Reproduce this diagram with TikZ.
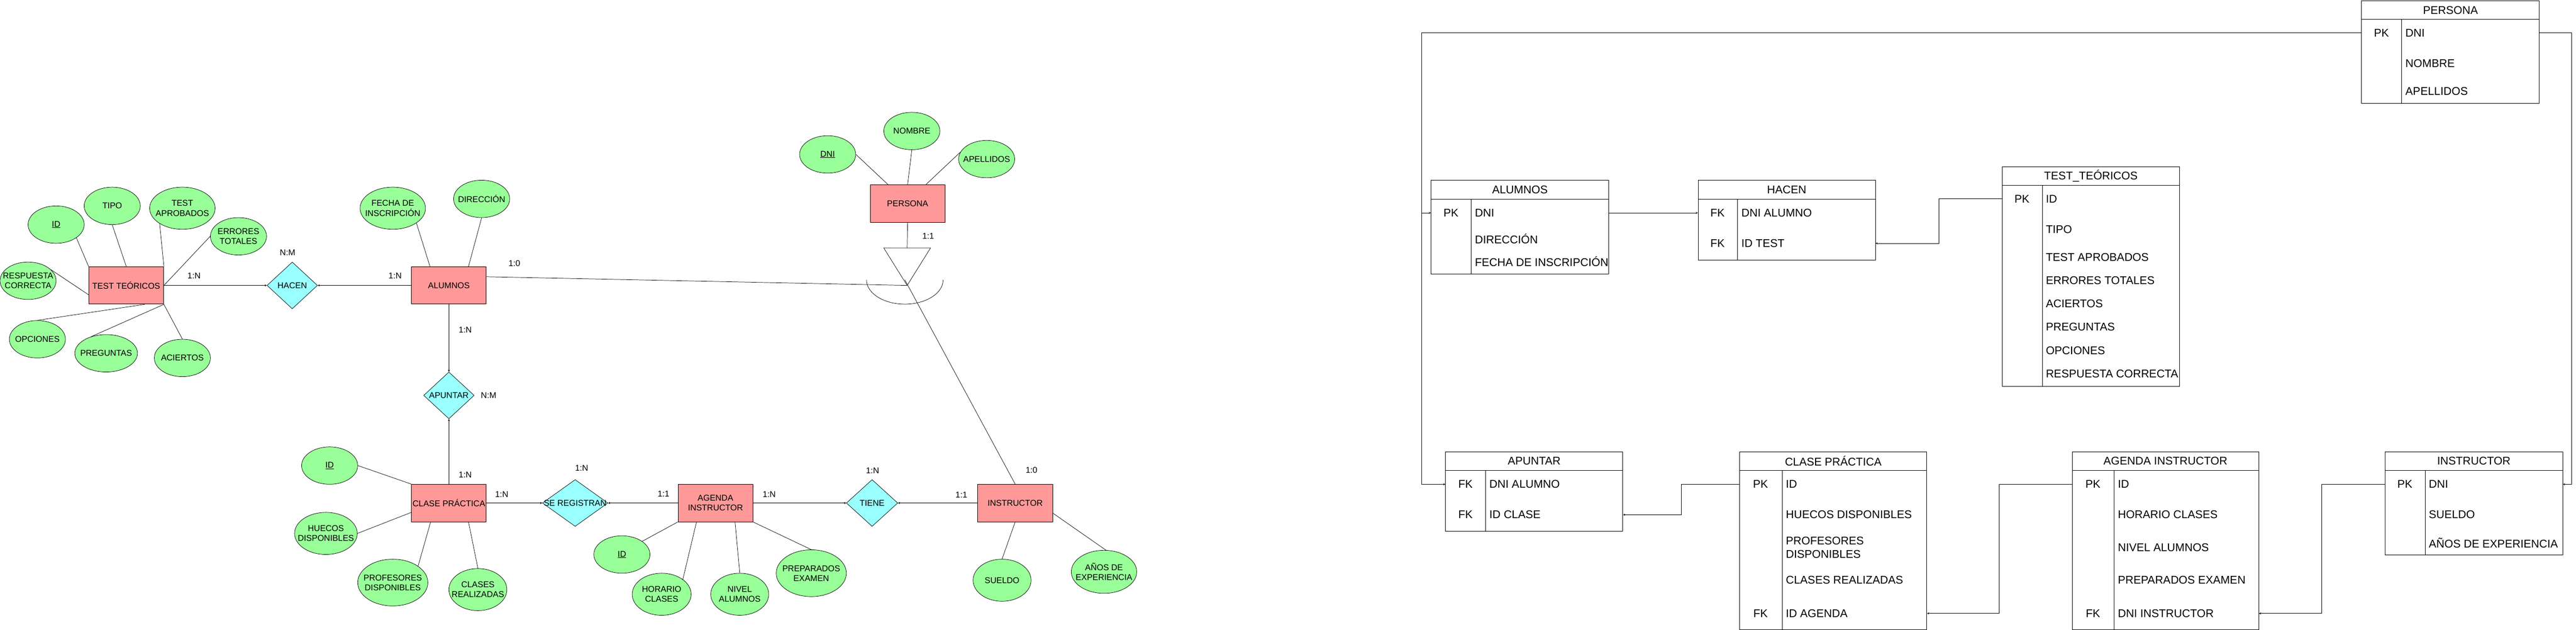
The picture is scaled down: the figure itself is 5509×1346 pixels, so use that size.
\documentclass[tikz,border=0pt]{standalone}
\usepackage{fontspec}
\setmainfont{Liberation Sans}
\usetikzlibrary{shapes.geometric}
\definecolor{entrojo}{HTML}{FF9999}
\definecolor{atrverde}{HTML}{99FF99}
\definecolor{relcian}{HTML}{99FFFF}
\begin{document}
\begin{tikzpicture}[>=stealth,x=1pt,y=-1pt,
	every node/.style={font=\fontsize{18}{21}\selectfont},
	entidad/.style={draw,fill=entrojo,line width=1pt,minimum width=160pt,minimum height=80pt,align=center,inner sep=1pt},
	atributo/.style={ellipse,draw,fill=atrverde,line width=0.8pt,inner sep=0pt},
	relacion/.style={diamond,draw,fill=relcian,line width=0.8pt,inner sep=0pt,minimum height=100pt},
	texto/.style={align=center},
	linea/.style={line width=0.8pt},
	flecha/.style={->,line width=1pt},
	cab/.style={draw,line width=1pt,minimum height=40pt,anchor=north west,font=\fontsize{24}{29}\selectfont},
	cuerpo/.style={draw,line width=1pt,anchor=north west},
	fila/.style={anchor=west,align=left,inner sep=0pt,font=\fontsize{24}{29}\selectfont},
	clave/.style={inner sep=0pt,font=\fontsize{24}{29}\selectfont}]
			\useasboundingbox (0,0) rectangle (5509,1346);
			% modelo entidad relacion
			\node[entidad] (tt) at (270,610) {TEST TEÓRICOS};
			\node[entidad] (alum) at (960,610) {ALUMNOS};
			\node[entidad] (pers) at (1941,435) {PERSONA};
			\node[entidad] (clase) at (960,1075) {CLASE PRÁCTICA};
			\node[entidad] (agenda) at (1530,1075) {AGENDA\\INSTRUCTOR};
			\node[entidad] (instr) at (2171,1075) {INSTRUCTOR};
			\node[relacion,minimum width=108pt,label={[texto]center:HACEN}] (hacen) at (625,610) {};
			\node[relacion,minimum width=108pt,label={[texto]center:APUNTAR}] (apuntar) at (960,845) {};
			\node[relacion,minimum width=140pt,label={[texto]center:SE REGISTRAN}] (seregis) at (1230,1075) {};
			\node[relacion,minimum width=110pt,label={[texto]center:TIENE}] (tiene) at (1865,1075) {};
			% atributos
			\node[atributo,minimum width=120pt,minimum height=80pt,label={[texto]center:\underline{ID}}] (ttid) at (120,480) {};
			\node[atributo,minimum width=120pt,minimum height=80pt,label={[texto]center:TIPO}] (tttipo) at (240,440) {};
			\node[atributo,minimum width=140pt,minimum height=90pt,label={[texto]center:{TEST\\APROBADOS}}] (ttaprob) at (390,445) {};
			\node[atributo,minimum width=120pt,minimum height=80pt,label={[texto]center:{ERRORES\\TOTALES}}] (tterr) at (510,505) {};
			\node[atributo,minimum width=120pt,minimum height=80pt,label={[texto]center:{RESPUESTA\\CORRECTA}}] (ttresp) at (60,600) {};
			\node[atributo,minimum width=120pt,minimum height=80pt,label={[texto]center:OPCIONES}] (ttopc) at (80,725) {};
			\node[atributo,minimum width=134pt,minimum height=80pt,label={[texto]center:PREGUNTAS}] (ttpreg) at (227,755) {};
			\node[atributo,minimum width=120pt,minimum height=80pt,label={[texto]center:ACIERTOS}] (ttacie) at (390,765) {};
			\node[atributo,minimum width=140pt,minimum height=90pt,label={[texto]center:{FECHA DE\\INSCRIPCIÓN}}] (alfecha) at (840,445) {};
			\node[atributo,minimum width=120pt,minimum height=80pt,label={[texto]center:DIRECCIÓN}] (aldir) at (1030,425) {};
			\node[atributo,minimum width=120pt,minimum height=80pt,label={[texto]center:\underline{DNI}}] (pdni) at (1770,330) {};
			\node[atributo,minimum width=120pt,minimum height=80pt,label={[texto]center:NOMBRE}] (pnom) at (1950,280) {};
			\node[atributo,minimum width=120pt,minimum height=80pt,label={[texto]center:APELLIDOS}] (pape) at (2110,340) {};
			\node[atributo,minimum width=120pt,minimum height=80pt,label={[texto]center:\underline{ID}}] (cid) at (705,995) {};
			\node[atributo,minimum width=134pt,minimum height=90pt,label={[texto]center:{HUECOS\\DISPONIBLES}}] (chuec) at (697,1140) {};
			\node[atributo,minimum width=150pt,minimum height=100pt,label={[texto]center:{PROFESORES\\DISPONIBLES}}] (cprof) at (840,1245) {};
			\node[atributo,minimum width=124pt,minimum height=90pt,label={[texto]center:{CLASES\\REALIZADAS}}] (creal) at (1022,1260) {};
			\node[atributo,minimum width=120pt,minimum height=80pt,label={[texto]center:\underline{ID}}] (aid) at (1330,1185) {};
			\node[atributo,minimum width=126pt,minimum height=90pt,label={[texto]center:{HORARIO\\CLASES}}] (ahor) at (1415,1270) {};
			\node[atributo,minimum width=124pt,minimum height=90pt,label={[texto]center:{NIVEL\\ALUMNOS}}] (aniv) at (1582,1270) {};
			\node[atributo,minimum width=150pt,minimum height=100pt,label={[texto]center:{PREPARADOS\\EXAMEN}}] (aprep) at (1735,1225) {};
			\node[atributo,minimum width=124pt,minimum height=90pt,label={[texto]center:SUELDO}] (isuel) at (2143,1240) {};
			\node[atributo,minimum width=140pt,minimum height=92pt,label={[texto]center:{AÑOS DE\\EXPERIENCIA}}] (ianos) at (2361,1222) {};
			\draw[linea] (ttid.-33)--(tt.north west);
			\draw[linea] (tttipo.south)--(tt.north);
			\draw[linea] (ttaprob.-146)--(tt.north east);
			\draw[linea] (tterr.west)--(tt.east);
			\draw[linea] (ttresp.26)--(tt.194);
			\draw[linea] (ttopc.north)--(tt.-46);
			\draw[linea] (ttpreg.132)--(tt.south east);
			\draw[linea] (ttacie.north)--(tt.south east);
			\draw[linea] (alfecha.-32)--(alum.135);
			\draw[linea] (aldir.south)--(alum.44);
			\draw[linea] (pdni.east)--(pers.136);
			\draw[linea] (pnom.south)--(pers.north);
			\draw[linea] (pape.165)--(pers.46);
			\draw[linea] (cid.east)--(clase.north west);
			\draw[linea] (chuec.east)--(clase.194);
			\draw[linea] (cprof.33)--(clase.226);
			\draw[linea] (creal.north)--(clase.-44);
			\draw[linea] (aid.33)--(agenda.south west);
			\draw[linea] (ahor.35)--(agenda.225);
			\draw[linea] (aniv.north)--(agenda.-44);
			\draw[linea] (aprep.north)--(agenda.south east);
			\draw[linea] (isuel.north)--(instr.south);
			\draw[linea] (instr.-15)--(ianos.85);
			% relaciones
			\draw[flecha] (tt.east)--(hacen.west);
			\draw[flecha] (alum.west)--(hacen.east);
			\draw[flecha] (alum.south)--(apuntar.north);
			\draw[flecha] (clase.north)--(apuntar.south);
			\draw[flecha] (clase.east)--(seregis.west);
			\draw[flecha] (agenda.west)--(seregis.east);
			\draw[flecha] (agenda.east)--(tiene.west);
			\draw[flecha] (instr.west)--(tiene.east);
			% herencia
			\coordinate (isa) at (1940,610);
			\coordinate (isatop) at (1940,530);
			\coordinate (isac) at (1935,598);
			\draw[linea] (isa)--++(-50,-80)--++(100,0)--cycle;
			\draw[linea] (pers.south)--(isatop);
			\draw[linea] (1853,598) arc[start angle=180,end angle=0,x radius=82,y radius=52];
			\draw[linea] (alum.13)--(isa);
			\draw[linea] (isac)--(instr.north);
			% cardinalidades
			\node (c1) at (415,589) {1:N};
			\node (c2) at (615,540) {N:M};
			\node (c3) at (845,589) {1:N};
			\node (c4) at (1100,563) {1:0};
			\node (c5) at (1985,505) {1:1};
			\node (c6) at (995,705) {1:N};
			\node (c7) at (1045,845) {N:M};
			\node (c8) at (995,1015) {1:N};
			\node (c9) at (1073,1057) {1:N};
			\node (c10) at (1244,1000) {1:N};
			\node (c11) at (1419,1055) {1:1};
			\node (c12) at (1645,1057) {1:N};
			\node (c13) at (1866,1006) {1:N};
			\node (c14) at (2056,1058) {1:1};
			\node (c15) at (2206,1005) {1:0};
			% modelo relacional
			\node[cab,minimum width=380pt] (ta-h) at (3060,385) {ALUMNOS};
			\node[cuerpo,minimum width=380pt,minimum height=160pt] (ta) at (3060,425) {};
			\draw[linea] (3146,425)--(3146,585);
			\node[clave] (ta-pk) at (3103,455) {PK};
			\node[fila] (ta-dni) at (3154,455) {DNI};
			\node[fila] (ta-dir) at (3154,510) {DIRECCIÓN};
			\node[fila] (ta-fec) at (3154,559) {FECHA DE INSCRIPCIÓN};
			\node[cab,minimum width=379pt] (th-h) at (3631,385) {HACEN};
			\node[cuerpo,minimum width=379pt,minimum height=130pt] (th) at (3631,425) {};
			\draw[linea] (3716,425)--(3716,555);
			\node[clave] (th-fk1) at (3673,455) {FK};
			\node[fila] (th-dni) at (3724,455) {DNI ALUMNO};
			\node[clave] (th-fk2) at (3673,520) {FK};
			\node[fila] (th-idt) at (3724,520) {ID TEST};
			\node[cab,minimum width=380pt] (tp-h) at (5050,1) {PERSONA};
			\node[cuerpo,minimum width=380pt,minimum height=179pt] (tp) at (5050,41) {};
			\draw[linea] (5136,41)--(5136,220);
			\node[clave] (tp-pk) at (5093,70) {PK};
			\node[fila] (tp-dni) at (5144,70) {DNI};
			\node[fila] (tp-nom) at (5144,135) {NOMBRE};
			\node[fila] (tp-ape) at (5144,195) {APELLIDOS};
			\node[cab,minimum width=380pt] (tte-h) at (4281,356) {TEST\_TEÓRICOS};
			\node[cuerpo,minimum width=380pt,minimum height=429pt] (tte) at (4281,396) {};
			\draw[linea] (4368,396)--(4368,825);
			\node[clave] (tte-pk) at (4324,425) {PK};
			\node[fila] (tte-id) at (4375,425) {ID};
			\node[fila] (tte-tip) at (4375,490) {TIPO};
			\node[fila] (tte-apr) at (4375,550) {TEST APROBADOS};
			\node[fila] (tte-err) at (4375,599) {ERRORES TOTALES};
			\node[fila] (tte-aci) at (4375,649) {ACIERTOS};
			\node[fila] (tte-pre) at (4375,699) {PREGUNTAS};
			\node[fila] (tte-opc) at (4375,749) {OPCIONES};
			\node[fila] (tte-res) at (4375,799) {RESPUESTA CORRECTA};
			\node[cab,minimum width=379pt] (tap-h) at (3091,965) {APUNTAR};
			\node[cuerpo,minimum width=379pt,minimum height=130pt] (tap) at (3091,1005) {};
			\draw[linea] (3177,1005)--(3177,1135);
			\node[clave] (tap-fk1) at (3134,1035) {FK};
			\node[fila] (tap-dni) at (3185,1035) {DNI ALUMNO};
			\node[clave] (tap-fk2) at (3134,1100) {FK};
			\node[fila] (tap-idc) at (3185,1100) {ID CLASE};
			\node[cab,minimum width=400pt] (tc-h) at (3720,965) {CLASE PRÁCTICA};
			\node[cuerpo,minimum width=400pt,minimum height=340pt] (tc) at (3720,1005) {};
			\draw[linea] (3811,1005)--(3811,1345);
			\node[clave] (tc-pk) at (3765,1035) {PK};
			\node[fila] (tc-id) at (3819,1035) {ID};
			\node[fila] (tc-hue) at (3819,1100) {HUECOS DISPONIBLES};
			\node[fila] (tc-pro) at (3819,1170) {PROFESORES\\DISPONIBLES};
			\node[fila] (tc-cla) at (3819,1239) {CLASES REALIZADAS};
			\node[clave] (tc-fk) at (3765,1311) {FK};
			\node[fila] (tc-ida) at (3819,1311) {ID AGENDA};
			\node[cab,minimum width=399pt] (tg-h) at (4431,965) {AGENDA INSTRUCTOR};
			\node[cuerpo,minimum width=399pt,minimum height=340pt] (tg) at (4431,1005) {};
			\draw[linea] (4521,1005)--(4521,1345);
			\node[clave] (tg-pk) at (4476,1035) {PK};
			\node[fila] (tg-id) at (4529,1035) {ID};
			\node[fila] (tg-hor) at (4529,1100) {HORARIO CLASES};
			\node[fila] (tg-niv) at (4529,1170) {NIVEL ALUMNOS};
			\node[fila] (tg-pre) at (4529,1240) {PREPARADOS EXAMEN};
			\node[clave] (tg-fk) at (4476,1311) {FK};
			\node[fila] (tg-dni) at (4529,1311) {DNI INSTRUCTOR};
			\node[cab,minimum width=380pt] (ti-h) at (5100,965) {INSTRUCTOR};
			\node[cuerpo,minimum width=380pt,minimum height=180pt] (ti) at (5100,1005) {};
			\draw[linea] (5186,1005)--(5186,1185);
			\node[clave] (ti-pk) at (5143,1035) {PK};
			\node[fila] (ti-dni) at (5194,1035) {DNI};
			\node[fila] (ti-sue) at (5194,1100) {SUELDO};
			\node[fila] (ti-ani) at (5194,1160) {AÑOS DE EXPERIENCIA};
			% claves ajenas
			\coordinate (busl) at (3040,0);
			\coordinate (busr) at (5500,0);
			\coordinate (codo1) at (4146,0);
			\coordinate (codo2) at (3596,0);
			\coordinate (codo3) at (4275,0);
			\coordinate (codo4) at (4965,0);
			\draw[flecha] (tp.west |- tp-dni) -| (busl |- ta-dni)--(ta.west |- ta-dni);
			\draw[flecha] (tp.west |- tp-dni) -| (busl |- tap-dni)--(tap.west |- tap-dni);
			\draw[flecha] (tp.east |- tp-dni) -| (busr |- ti-dni)--(ti.east |- ti-dni);
			\draw[flecha] (ta.east |- ta-dni)--(th.west |- th-dni);
			\draw[flecha] (tte.west |- tte-id) -| (codo1 |- th-idt)--(th.east |- th-idt);
			\draw[flecha] (tc.west |- tc-id) -| (codo2 |- tap-idc)--(tap.east |- tap-idc);
			\draw[flecha] (tg.west |- tg-id) -| (codo3 |- tc-ida)--(tc.east |- tc-ida);
			\draw[flecha] (ti.west |- ti-dni) -| (codo4 |- tg-dni)--(tg.east |- tg-dni);
		\end{tikzpicture}
\end{document}
